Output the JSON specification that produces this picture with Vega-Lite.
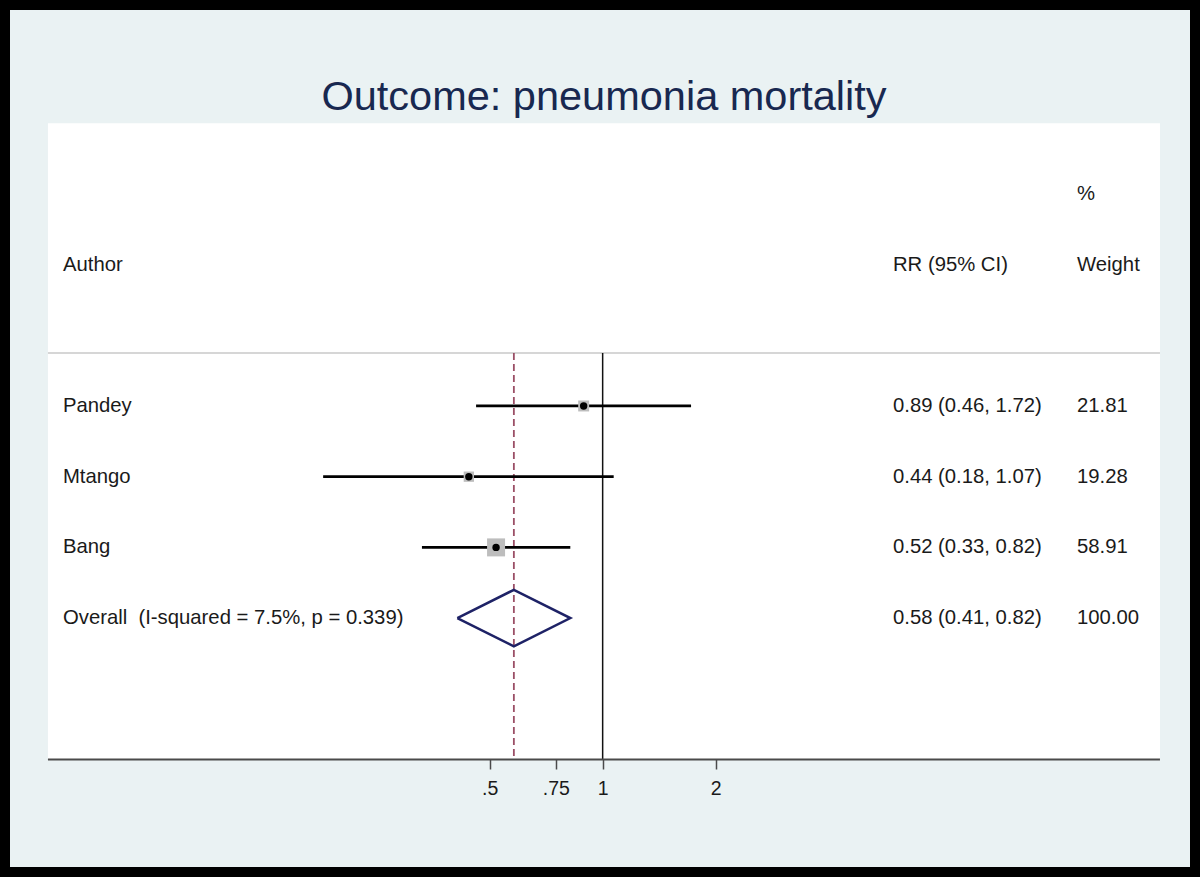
{
  "$schema": "https://vega.github.io/schema/vega-lite/v6.json",
  "width": 1180,
  "height": 857,
  "padding": 10,
  "autosize": {"type": "none"},
  "background": "#000000",
  "config": {
    "view": {"fill": "#EAF2F3", "stroke": null},
    "axisY": {"disable": true},
    "text": {"font": "Liberation Sans"}
  },
  "title": {
    "text": "Outcome: pneumonia mortality",
    "font": "Liberation Sans",
    "fontSize": 41.5,
    "fontWeight": "normal",
    "color": "#182850",
    "anchor": "middle",
    "offset": -108,
    "dx": 4
  },
  "datasets": {
    "studies": [
      {"author": "Pandey", "rr": 0.89, "lo": 0.46, "hi": 1.72, "weight": 21.81, "row": 4},
      {"author": "Mtango", "rr": 0.44, "lo": 0.18, "hi": 1.07, "weight": 19.28, "row": 5},
      {"author": "Bang", "rr": 0.52, "lo": 0.33, "hi": 0.82, "weight": 58.91, "row": 6}
    ],
    "overall": [
      {"author": "Overall", "rr": 0.58, "lo": 0.41, "hi": 0.82, "weight": 100, "row": 7}
    ],
    "diamond": [
      {"x": 0.41, "y": 7, "o": 1},
      {"x": 0.58, "y": 6.6, "o": 2},
      {"x": 0.82, "y": 7, "o": 3},
      {"x": 0.58, "y": 7.4, "o": 4},
      {"x": 0.41, "y": 7, "o": 5}
    ],
    "table": [
      {"label": "", "ci": "", "wt": "%", "row": 1},
      {"label": "Author", "ci": "RR (95% CI)", "wt": "Weight", "row": 2},
      {"label": "Pandey", "ci": "0.89 (0.46, 1.72)", "wt": "21.81", "row": 4},
      {"label": "Mtango", "ci": "0.44 (0.18, 1.07)", "wt": "19.28", "row": 5},
      {"label": "Bang", "ci": "0.52 (0.33, 0.82)", "wt": "58.91", "row": 6},
      {"label": "Overall\u00a0 (I-squared = 7.5%, p = 0.339)", "ci": "0.58 (0.41, 0.82)", "wt": "100.00", "row": 7}
    ]
  },
  "layer": [
    {
      "data": {"values": [{}]},
      "mark": {"type": "rect", "fill": "#FFFFFF"},
      "encoding": {
        "x": {"datum": 0.03327, "type": "quantitative", "scale": {"type": "log", "domain": [0.02636, 36.72], "nice": false}},
        "x2": {"datum": 30.54},
        "y": {"datum": 0, "type": "quantitative", "scale": {"domain": [-1.6, 10.52], "reverse": true, "nice": false, "zero": false}},
        "y2": {"datum": 9}
      }
    },
    {
      "data": {"values": [{}]},
      "mark": {"type": "rule", "color": "#D6D6D6", "strokeWidth": 2},
      "encoding": {
        "x": {"datum": 0.03327, "type": "quantitative"},
        "x2": {"datum": 30.54},
        "y": {"datum": 3.25, "type": "quantitative"}
      }
    },
    {
      "data": {"values": [{}]},
      "mark": {"type": "rule", "color": "#111111", "strokeWidth": 1.5},
      "encoding": {
        "x": {"datum": 1, "type": "quantitative"},
        "y": {"datum": 3.25, "type": "quantitative"},
        "y2": {"datum": 9}
      }
    },
    {
      "data": {"name": "overall"},
      "mark": {"type": "rule", "color": "#9B4F66", "strokeWidth": 1.8, "strokeDash": [7, 4]},
      "encoding": {
        "x": {"field": "rr", "type": "quantitative"},
        "y": {"datum": 3.25, "type": "quantitative"},
        "y2": {"datum": 9}
      }
    },
    {
      "data": {"values": [{}]},
      "mark": {"type": "rule", "color": "#4A4A4A", "strokeWidth": 2},
      "encoding": {
        "x": {"datum": 0.03327, "type": "quantitative"},
        "x2": {"datum": 30.54},
        "y": {"datum": 9, "type": "quantitative"}
      }
    },
    {
      "data": {"name": "studies"},
      "mark": {"type": "rule", "color": "#000000", "strokeWidth": 2.8},
      "encoding": {
        "x": {
          "field": "lo", "type": "quantitative",
          "axis": {
            "values": [0.5, 0.75, 1, 2],
            "offset": -108,
            "domain": false,
            "grid": false,
            "ticks": true,
            "tickSize": 10,
            "tickColor": "#4A4A4A",
            "tickWidth": 1.5,
            "labelFont": "Liberation Sans",
            "labelFontSize": 19.5,
            "labelColor": "#1A1A1A",
            "labelPadding": 10,
            "labelFlush": false,
            "labelOverlap": false,
            "labelExpr": "datum.value < 1 ? replace(format(datum.value, '~g'), '0.', '.') : format(datum.value, '~g')",
            "title": null,
            "zindex": 1
          }
        },
        "x2": {"field": "hi"},
        "y": {"field": "row", "type": "quantitative"}
      }
    },
    {
      "data": {"name": "studies"},
      "mark": {"type": "point", "shape": "square", "filled": true, "color": "#BDBDBD", "opacity": 1},
      "encoding": {
        "x": {"field": "rr", "type": "quantitative"},
        "y": {"field": "row", "type": "quantitative"},
        "size": {"field": "weight", "type": "quantitative", "scale": {"domain": [0, 100], "range": [0, 550]}, "legend": null}
      }
    },
    {
      "data": {"name": "studies"},
      "mark": {"type": "point", "shape": "circle", "filled": true, "color": "#000000", "size": 55, "opacity": 1},
      "encoding": {
        "x": {"field": "rr", "type": "quantitative"},
        "y": {"field": "row", "type": "quantitative"}
      }
    },
    {
      "data": {"name": "diamond"},
      "mark": {"type": "line", "color": "#1E2266", "strokeWidth": 2.5},
      "encoding": {
        "x": {"field": "x", "type": "quantitative"},
        "y": {"field": "y", "type": "quantitative"},
        "order": {"field": "o", "type": "quantitative"}
      }
    },
    {
      "data": {"name": "table"},
      "mark": {"type": "text", "align": "left", "baseline": "middle", "fontSize": 20.3, "color": "#1A1A1A"},
      "encoding": {
        "x": {"datum": 0.03648, "type": "quantitative"},
        "y": {"field": "row", "type": "quantitative"},
        "text": {"field": "label"}
      }
    },
    {
      "data": {"name": "table"},
      "mark": {"type": "text", "align": "left", "baseline": "middle", "fontSize": 20.3, "color": "#1A1A1A"},
      "encoding": {
        "x": {"datum": 5.936, "type": "quantitative"},
        "y": {"field": "row", "type": "quantitative"},
        "text": {"field": "ci"}
      }
    },
    {
      "data": {"name": "table"},
      "mark": {"type": "text", "align": "left", "baseline": "middle", "fontSize": 20.3, "color": "#1A1A1A"},
      "encoding": {
        "x": {"datum": 18.36, "type": "quantitative"},
        "y": {"field": "row", "type": "quantitative"},
        "text": {"field": "wt"}
      }
    }
  ]
}
